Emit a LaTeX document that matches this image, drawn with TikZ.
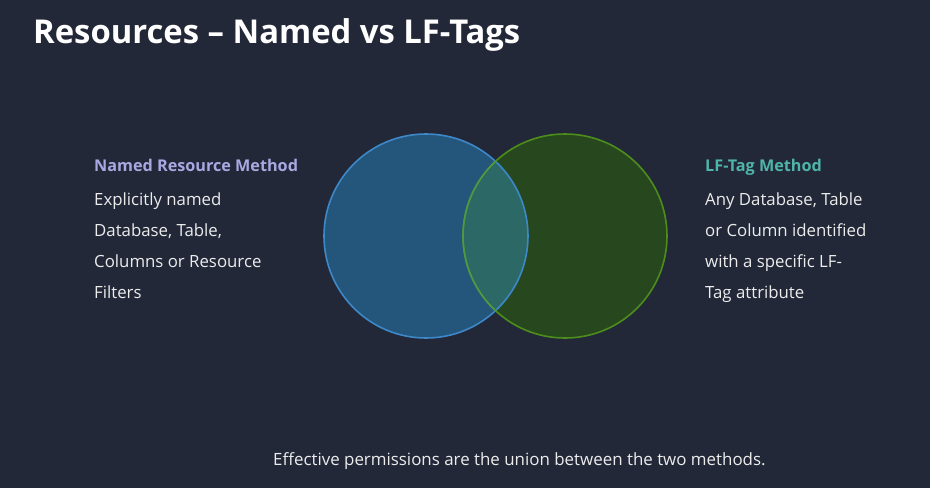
\documentclass[tikz,border=0pt]{standalone}
\usepackage{fontspec}
\setmainfont{Open Sans}
\definecolor{bg}{HTML}{222838}
\definecolor{bluefill}{HTML}{24557A}
\definecolor{bluestroke}{HTML}{3D88C9}
\definecolor{greenfill}{HTML}{27481F}
\definecolor{greenstroke}{HTML}{4C8D1C}
\definecolor{overlap}{HTML}{2B6866}
\definecolor{lavender}{HTML}{A9A9E2}
\definecolor{teal}{HTML}{4FB5A8}
\definecolor{txt}{HTML}{ECECEC}
\tikzset{
  bodytext/.style={anchor=base west, inner sep=0pt, text=txt,
    font=\fontsize{16.8}{20}\selectfont},
  headtext/.style={anchor=base west, inner sep=0pt, font=\fontsize{16.2}{20}\selectfont\bfseries},
  venn/.style={circle, minimum size=204pt, line width=1.6pt, inner sep=0pt},
}
\begin{document}
\begin{tikzpicture}[x=1pt,y=-1pt]
\fill[bg] (0,0) rectangle (930,488);
\useasboundingbox (0,0) rectangle (930,488);
% title
\node[anchor=base west, inner sep=0pt, text=white, font=\fontsize{32.8}{38}\selectfont\bfseries] (title) at (33,43) {Resources – Named vs LF-Tags};
% circles
\fill[bluefill] (426,236) circle[radius=102];
\fill[greenfill] (565,236) circle[radius=102];
\begin{scope}
  \clip (426,236) circle[radius=102];
  \fill[overlap] (565,236) circle[radius=102];
\end{scope}
\node[venn, draw=bluestroke] (named) at (426,236) {};
\node[venn, draw=greenstroke] (lftag) at (565,236) {};
\begin{scope}
  \clip (426,236) circle[radius=102];
  \draw[color=greenstroke!70!teal, line width=1.6pt] (565,236) circle[radius=102];
\end{scope}
% left text
\node[headtext, text=lavender] (lhead) at (94,171) {Named Resource Method};
\node[bodytext] (l1) at (94,205) {Explicitly named};
\node[bodytext] (l2) at (94,236) {Database, Table,};
\node[bodytext] (l3) at (94,267) {Columns or Resource};
\node[bodytext] (l4) at (94,298) {Filters};
% right text
\node[headtext, text=teal] (rhead) at (705,171) {LF-Tag Method};
\node[bodytext] (r1) at (705,205) {Any Database, Table};
\node[bodytext] (r2) at (705,236) {or Column identified};
\node[bodytext] (r3) at (705,267) {with a specific LF-};
\node[bodytext] (r4) at (705,298) {Tag attribute};
% bottom
\node[anchor=base west, inner sep=0pt, text=txt, font=\fontsize{16.9}{20}\selectfont] (foot) at (273,465) {Effective permissions are the union between the two methods.};
\end{tikzpicture}
\end{document}
